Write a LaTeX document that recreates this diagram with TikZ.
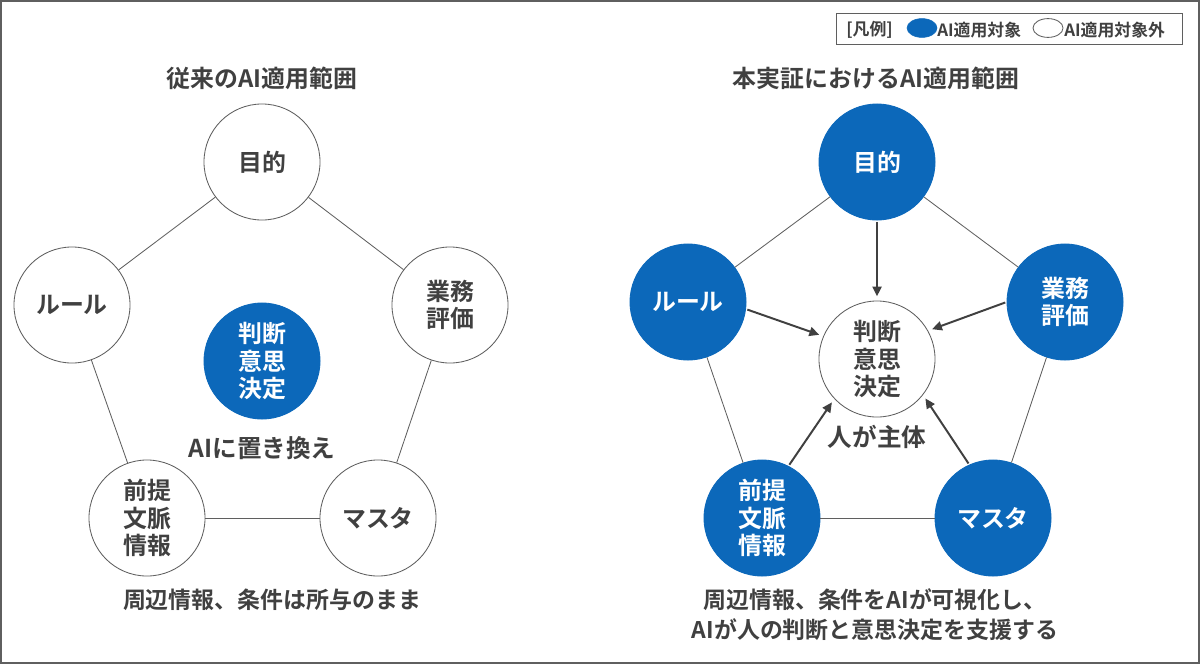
\documentclass[tikz,border=0pt]{standalone}
\usepackage{fontspec}
\setmainfont{Noto Sans CJK JP}[BoldFont={Noto Sans CJK JP Bold}]
\usetikzlibrary{arrows.meta, shapes.geometric}

\definecolor{aiblue}{RGB}{12,104,186}
\definecolor{txtgray}{RGB}{64,64,64}
\definecolor{linegray}{RGB}{95,95,95}

\begin{document}
\begin{tikzpicture}[x=0.025cm, y=-0.025cm,
  ball/.style={circle, draw=linegray, line width=0.6pt, fill=white,
    minimum size=2.9cm, inner sep=0pt, align=center, text=txtgray,
    font=\bfseries\fontsize{17}{19.5}\selectfont},
  aiball/.style={ball, draw=aiblue, fill=aiblue, text=white},
  link/.style={draw=linegray, line width=0.6pt},
  flow/.style={-{Triangle[length=7pt,width=6.5pt]}, line width=1.4pt, draw=txtgray,
    shorten <=1pt, shorten >=3pt},
  headline/.style={text=txtgray, font=\bfseries\fontsize{17}{21}\selectfont, align=center},
  notetext/.style={headline, font=\bfseries\fontsize{17.5}{21}\selectfont},
  foottext/.style={headline, font=\bfseries\fontsize{16.3}{21.5}\selectfont},
  legendtext/.style={text=txtgray, font=\bfseries\fontsize{12}{14}\selectfont, anchor=west, inner sep=0pt}
  ]

  % Frame
  \useasboundingbox (0,0) rectangle (1200,664);
  \draw[linegray, line width=1.4pt] (1,1) rectangle (1199,663);

  % Legend
  \node[draw=linegray, line width=0.6pt, minimum width=8.65cm, minimum height=0.78cm,
    inner sep=0pt] (legend) at (1009.5,29) {};
  \node[legendtext] (legtitle) at (846,30) {[凡例]};
  \node[ellipse, fill=aiblue, draw=aiblue, minimum width=0.75cm, minimum height=0.47cm,
    inner sep=0pt] (legon) at (922,28) {};
  \node[legendtext] (legontext) at (937,30) {AI適用対象};
  \node[ellipse, fill=white, draw=linegray, line width=0.6pt, minimum width=0.75cm,
    minimum height=0.47cm, inner sep=0pt] (legoff) at (1048,28) {};
  \node[legendtext] (legofftext) at (1064,30) {AI適用対象外};

  % Left: conventional scope
  \node[headline] (ltitle) at (262,78) {従来のAI適用範囲};
  \node[ball] (lgoal) at (262,162) {目的};
  \node[ball] (lrule) at (72,305) {ルール};
  \node[ball] (leval) at (450,305) {業務\\評価};
  \node[ball] (lctx) at (147,518) {前提\\文脈\\情報};
  \node[ball] (lmaster) at (378,518) {マスタ};
  \node[aiball] (lctr) at (262,361) {判断\\意思\\決定};
  \node[notetext] (lnote) at (262,448) {AIに置き換え};
  \node[foottext] (lfoot) at (272,600) {周辺情報、条件は所与のまま};

  \draw[link] (lgoal) -- (lrule);
  \draw[link] (lgoal) -- (leval);
  \draw[link] (lrule) -- (lctx);
  \draw[link] (leval) -- (lmaster);
  \draw[link] (lctx) -- (lmaster);

  % Right: scope in this demonstration
  \node[headline] (rtitle) at (876,78) {本実証におけるAI適用範囲};
  \node[aiball] (rgoal) at (877,162) {目的};
  \node[aiball] (rrule) at (688,302) {ルール};
  \node[aiball] (reval) at (1065,302) {業務\\評価};
  \node[aiball] (rctx) at (762,518) {前提\\文脈\\情報};
  \node[aiball] (rmaster) at (993,518) {マスタ};
  \node[ball] (rctr) at (877,359) {判断\\意思\\決定};
  \node[notetext] (rnote) at (877,437) {人が主体};
  \node[foottext] (rfoot) at (875,615) {周辺情報、条件をAIが可視化し、\\AIが人の判断と意思決定を支援する};

  \draw[link] (rgoal) -- (rrule);
  \draw[link] (rgoal) -- (reval);
  \draw[link] (rrule) -- (rctx);
  \draw[link] (reval) -- (rmaster);
  \draw[link] (rctx) -- (rmaster);

  % Arrows into the decision
  \draw[flow] (rgoal.south) -- (rctr.north);
  \draw[flow] (rrule.-7) -- (rctr.157);
  \draw[flow] (reval.west) -- (rctr.29);
  \draw[flow] (rctx.63) -- (rctr.223);
  \draw[flow] (rmaster.114) -- (rctr.-38);

\end{tikzpicture}
\end{document}
